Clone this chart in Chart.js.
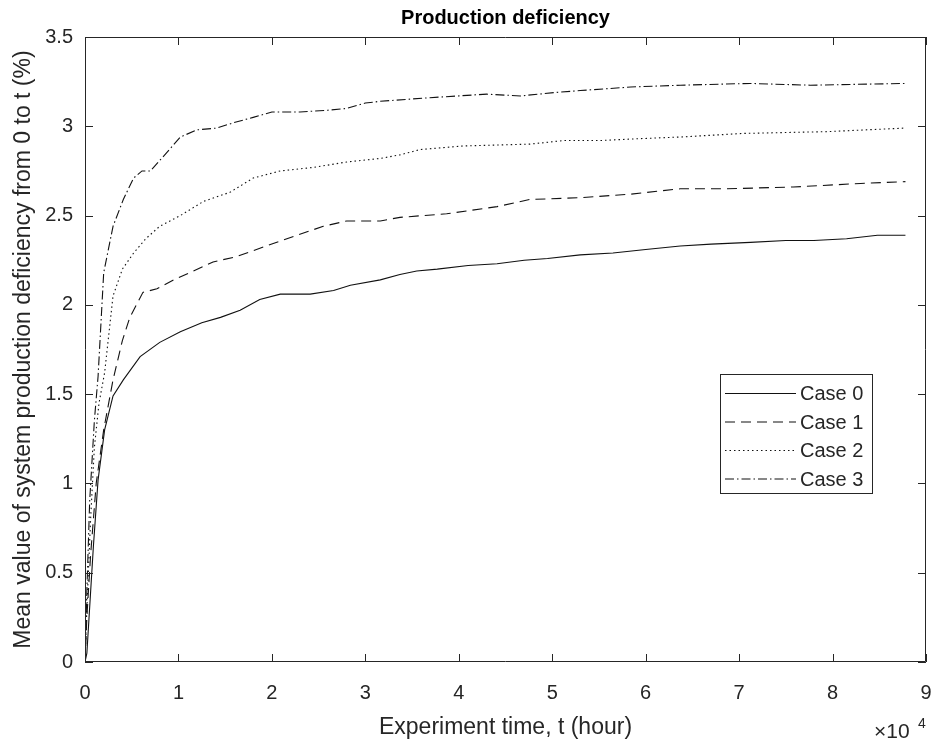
<!DOCTYPE html>
<html>
<head>
<meta charset="utf-8">
<script src="https://cdn.jsdelivr.net/npm/chart.js@4"></script>
<style>
  html, body { margin: 0; padding: 0; background: #fff; }
  #wrap { width: 936px; height: 745px; }
</style>
</head>
<body>
<div id="wrap"><canvas id="chart" width="936" height="745"></canvas></div>
<script>
// experiment time (hours) and mean production deficiency (%) for each case
const time0 = [0, 200, 900, 1400, 2100, 3000, 4100, 5900, 8000, 10200, 12500, 14500, 16600, 18700, 20900, 24100, 26600, 28400, 31600, 33700, 35500, 37700, 41000, 44100, 47000, 49500, 53000, 56500, 60000, 63700, 67000, 71200, 75000, 78000, 81500, 84800, 87800];
const case0 = [0, 0.05, 0.65, 1.02, 1.30, 1.49, 1.58, 1.71, 1.79, 1.85, 1.90, 1.93, 1.97, 2.03, 2.06, 2.06, 2.08, 2.11, 2.14, 2.17, 2.19, 2.20, 2.22, 2.23, 2.25, 2.26, 2.28, 2.29, 2.31, 2.33, 2.34, 2.35, 2.36, 2.36, 2.37, 2.39, 2.39];

const time1 = [0, 200, 600, 1200, 2000, 3000, 4000, 4800, 6200, 7700, 9500, 11200, 13700, 16200, 19400, 22700, 25500, 28000, 31600, 33700, 38700, 44100, 47600, 53000, 58400, 63700, 68700, 75800, 83000, 87800];
const case1 = [0, 0.25, 0.60, 1.00, 1.30, 1.58, 1.80, 1.93, 2.07, 2.09, 2.14, 2.18, 2.24, 2.27, 2.33, 2.39, 2.44, 2.47, 2.47, 2.49, 2.51, 2.55, 2.59, 2.60, 2.62, 2.65, 2.65, 2.66, 2.68, 2.69];

const time2 = [0, 200, 600, 1000, 1500, 2100, 3000, 4000, 5200, 6500, 8000, 10200, 12700, 15500, 18000, 20900, 24500, 28000, 31600, 33700, 35900, 40500, 47600, 51200, 55000, 59100, 63700, 70500, 79400, 87800];
const case2 = [0, 0.30, 0.80, 1.20, 1.45, 1.62, 2.05, 2.20, 2.29, 2.37, 2.44, 2.50, 2.58, 2.63, 2.71, 2.75, 2.77, 2.80, 2.82, 2.84, 2.87, 2.89, 2.90, 2.92, 2.92, 2.93, 2.94, 2.96, 2.97, 2.99];

const time3 = [0, 200, 500, 1000, 1400, 2000, 3000, 4100, 5200, 6100, 7000, 8700, 10200, 12000, 14100, 15900, 18000, 20000, 23000, 26000, 28000, 30000, 31600, 36900, 43000, 46600, 50500, 53000, 58400, 63700, 71200, 77600, 87800];
const case3 = [0, 0.40, 0.90, 1.35, 1.60, 2.18, 2.44, 2.59, 2.71, 2.75, 2.75, 2.85, 2.94, 2.98, 2.99, 3.02, 3.05, 3.08, 3.08, 3.09, 3.10, 3.13, 3.14, 3.16, 3.18, 3.17, 3.19, 3.20, 3.22, 3.23, 3.24, 3.23, 3.24];

const seriesLabels = ['Case 0', 'Case 1', 'Case 2', 'Case 3'];

const xTicks = [0, 10000, 20000, 30000, 40000, 50000, 60000, 70000, 80000, 90000];
const yTicks = [0, 0.5, 1, 1.5, 2, 2.5, 3, 3.5];

const chartTitle = 'Production deficiency';
const textColor = '#262626';
const fontFamily = "'Liberation Sans', Arial, Helvetica, sans-serif";

function pts(xs, ys) {
    return xs.map((x, i) => ({ x: x, y: ys[i] }));
}

const dashes = [[], [10, 6], [1.5, 3], [9, 3, 1.5, 3]];
const allX = [time0, time1, time2, time3];
const allY = [case0, case1, case2, case3];

const datasets = seriesLabels.map((lab, i) => ({
    label: lab,
    data: pts(allX[i], allY[i]),
    borderColor: '#111',
    borderWidth: 1.1,
    borderDash: dashes[i],
    pointRadius: 0,
    tension: 0,
    fill: false
}));

// title over the plot box, inward ticks on all four sides, frame, x10^4 and the legend
const matlabAxes = {
    id: 'matlabAxes',
    afterDraw(chart) {
        const ctx = chart.ctx;
        const a = chart.chartArea;
        const xs = chart.scales.x;
        const ys = chart.scales.y;
        ctx.save();

        ctx.fillStyle = '#000';
        ctx.font = 'bold 20px ' + fontFamily;
        ctx.textAlign = 'center';
        ctx.textBaseline = 'middle';
        ctx.fillText(chartTitle, (a.left + a.right) / 2, 18);

        ctx.strokeStyle = textColor;
        ctx.lineWidth = 1;
        ctx.beginPath();
        ctx.rect(a.left + 0.5, a.top + 0.5, a.right - a.left - 1, a.bottom - a.top - 1);
        ctx.stroke();
        const tl = 8;
        ctx.beginPath();
        xTicks.forEach(v => {
            const px = Math.round(xs.getPixelForValue(v)) + 0.5;
            ctx.moveTo(px, a.bottom); ctx.lineTo(px, a.bottom - tl);
            ctx.moveTo(px, a.top); ctx.lineTo(px, a.top + tl);
        });
        yTicks.forEach(v => {
            const py = Math.round(ys.getPixelForValue(v)) + 0.5;
            ctx.moveTo(a.left, py); ctx.lineTo(a.left + tl, py);
            ctx.moveTo(a.right, py); ctx.lineTo(a.right - tl, py);
        });
        ctx.stroke();

        // exponent label
        ctx.fillStyle = textColor;
        ctx.textBaseline = 'alphabetic';
        ctx.textAlign = 'left';
        ctx.font = '21px ' + fontFamily;
        ctx.fillText('\u00d710', a.right - 52, a.bottom + 76);
        ctx.font = '14px ' + fontFamily;
        ctx.fillText('4', a.right - 8, a.bottom + 66);

        // legend box
        const bx = 720, by = 374, bw = 152, bh = 119;
        ctx.fillStyle = '#fff';
        ctx.fillRect(bx, by, bw, bh);
        ctx.strokeStyle = textColor;
        ctx.strokeRect(bx + 0.5, by + 0.5, bw, bh);
        chart.data.datasets.forEach((ds, i) => {
            const y = by + 19.5 + i * 28.5;
            ctx.strokeStyle = '#111';
            ctx.lineWidth = 1.1;
            ctx.setLineDash(ds.borderDash);
            ctx.beginPath();
            ctx.moveTo(bx + 5, y);
            ctx.lineTo(bx + 76, y);
            ctx.stroke();
            ctx.setLineDash([]);
            ctx.fillStyle = textColor;
            ctx.font = '20px ' + fontFamily;
            ctx.textBaseline = 'middle';
            ctx.fillText(ds.label, bx + 80, y + 1);
        });
        ctx.restore();
    }
};

new Chart(document.getElementById('chart').getContext('2d'), {
    type: 'line',
    data: { datasets: datasets },
    plugins: [matlabAxes],
    options: {
        responsive: false,
        animation: false,
        layout: { padding: { left: 0, right: 10, top: 37, bottom: 0 } },
        plugins: {
            legend: { display: false },
            tooltip: { enabled: false },
            title: { display: false }
        },
        scales: {
            x: {
                type: 'linear',
                min: 0,
                max: 90000,
                afterFit: s => { s.height = 83; s.paddingLeft = 0; s.paddingRight = 0; },
                afterBuildTicks: s => { s.ticks = xTicks.map(v => ({ value: v })); },
                grid: { display: false },
                border: { display: false },
                ticks: {
                    color: textColor,
                    font: { family: fontFamily, size: 20 },
                    padding: 11,
                    maxRotation: 0,
                    callback: v => String(v / 10000)
                },
                title: {
                    display: true,
                    text: 'Experiment time, t (hour)',
                    color: textColor,
                    font: { family: fontFamily, size: 23 },
                    padding: { top: 0, bottom: 4 }
                }
            },
            y: {
                min: 0,
                max: 3.5,
                afterFit: s => { s.width = 85; s.paddingTop = 0; s.paddingBottom = 0; },
                afterBuildTicks: s => { s.ticks = yTicks.map(v => ({ value: v })); },
                grid: { display: false },
                border: { display: false },
                ticks: {
                    color: textColor,
                    font: { family: fontFamily, size: 20 },
                    padding: 4,
                    callback: v => String(v)
                },
                title: {
                    display: true,
                    text: 'Mean value of system production deficiency from 0 to t (%)',
                    color: textColor,
                    font: { family: fontFamily, size: 23 },
                    padding: { top: 10, bottom: 0 }
                }
            }
        }
    }
});
</script>
</body>
</html>
